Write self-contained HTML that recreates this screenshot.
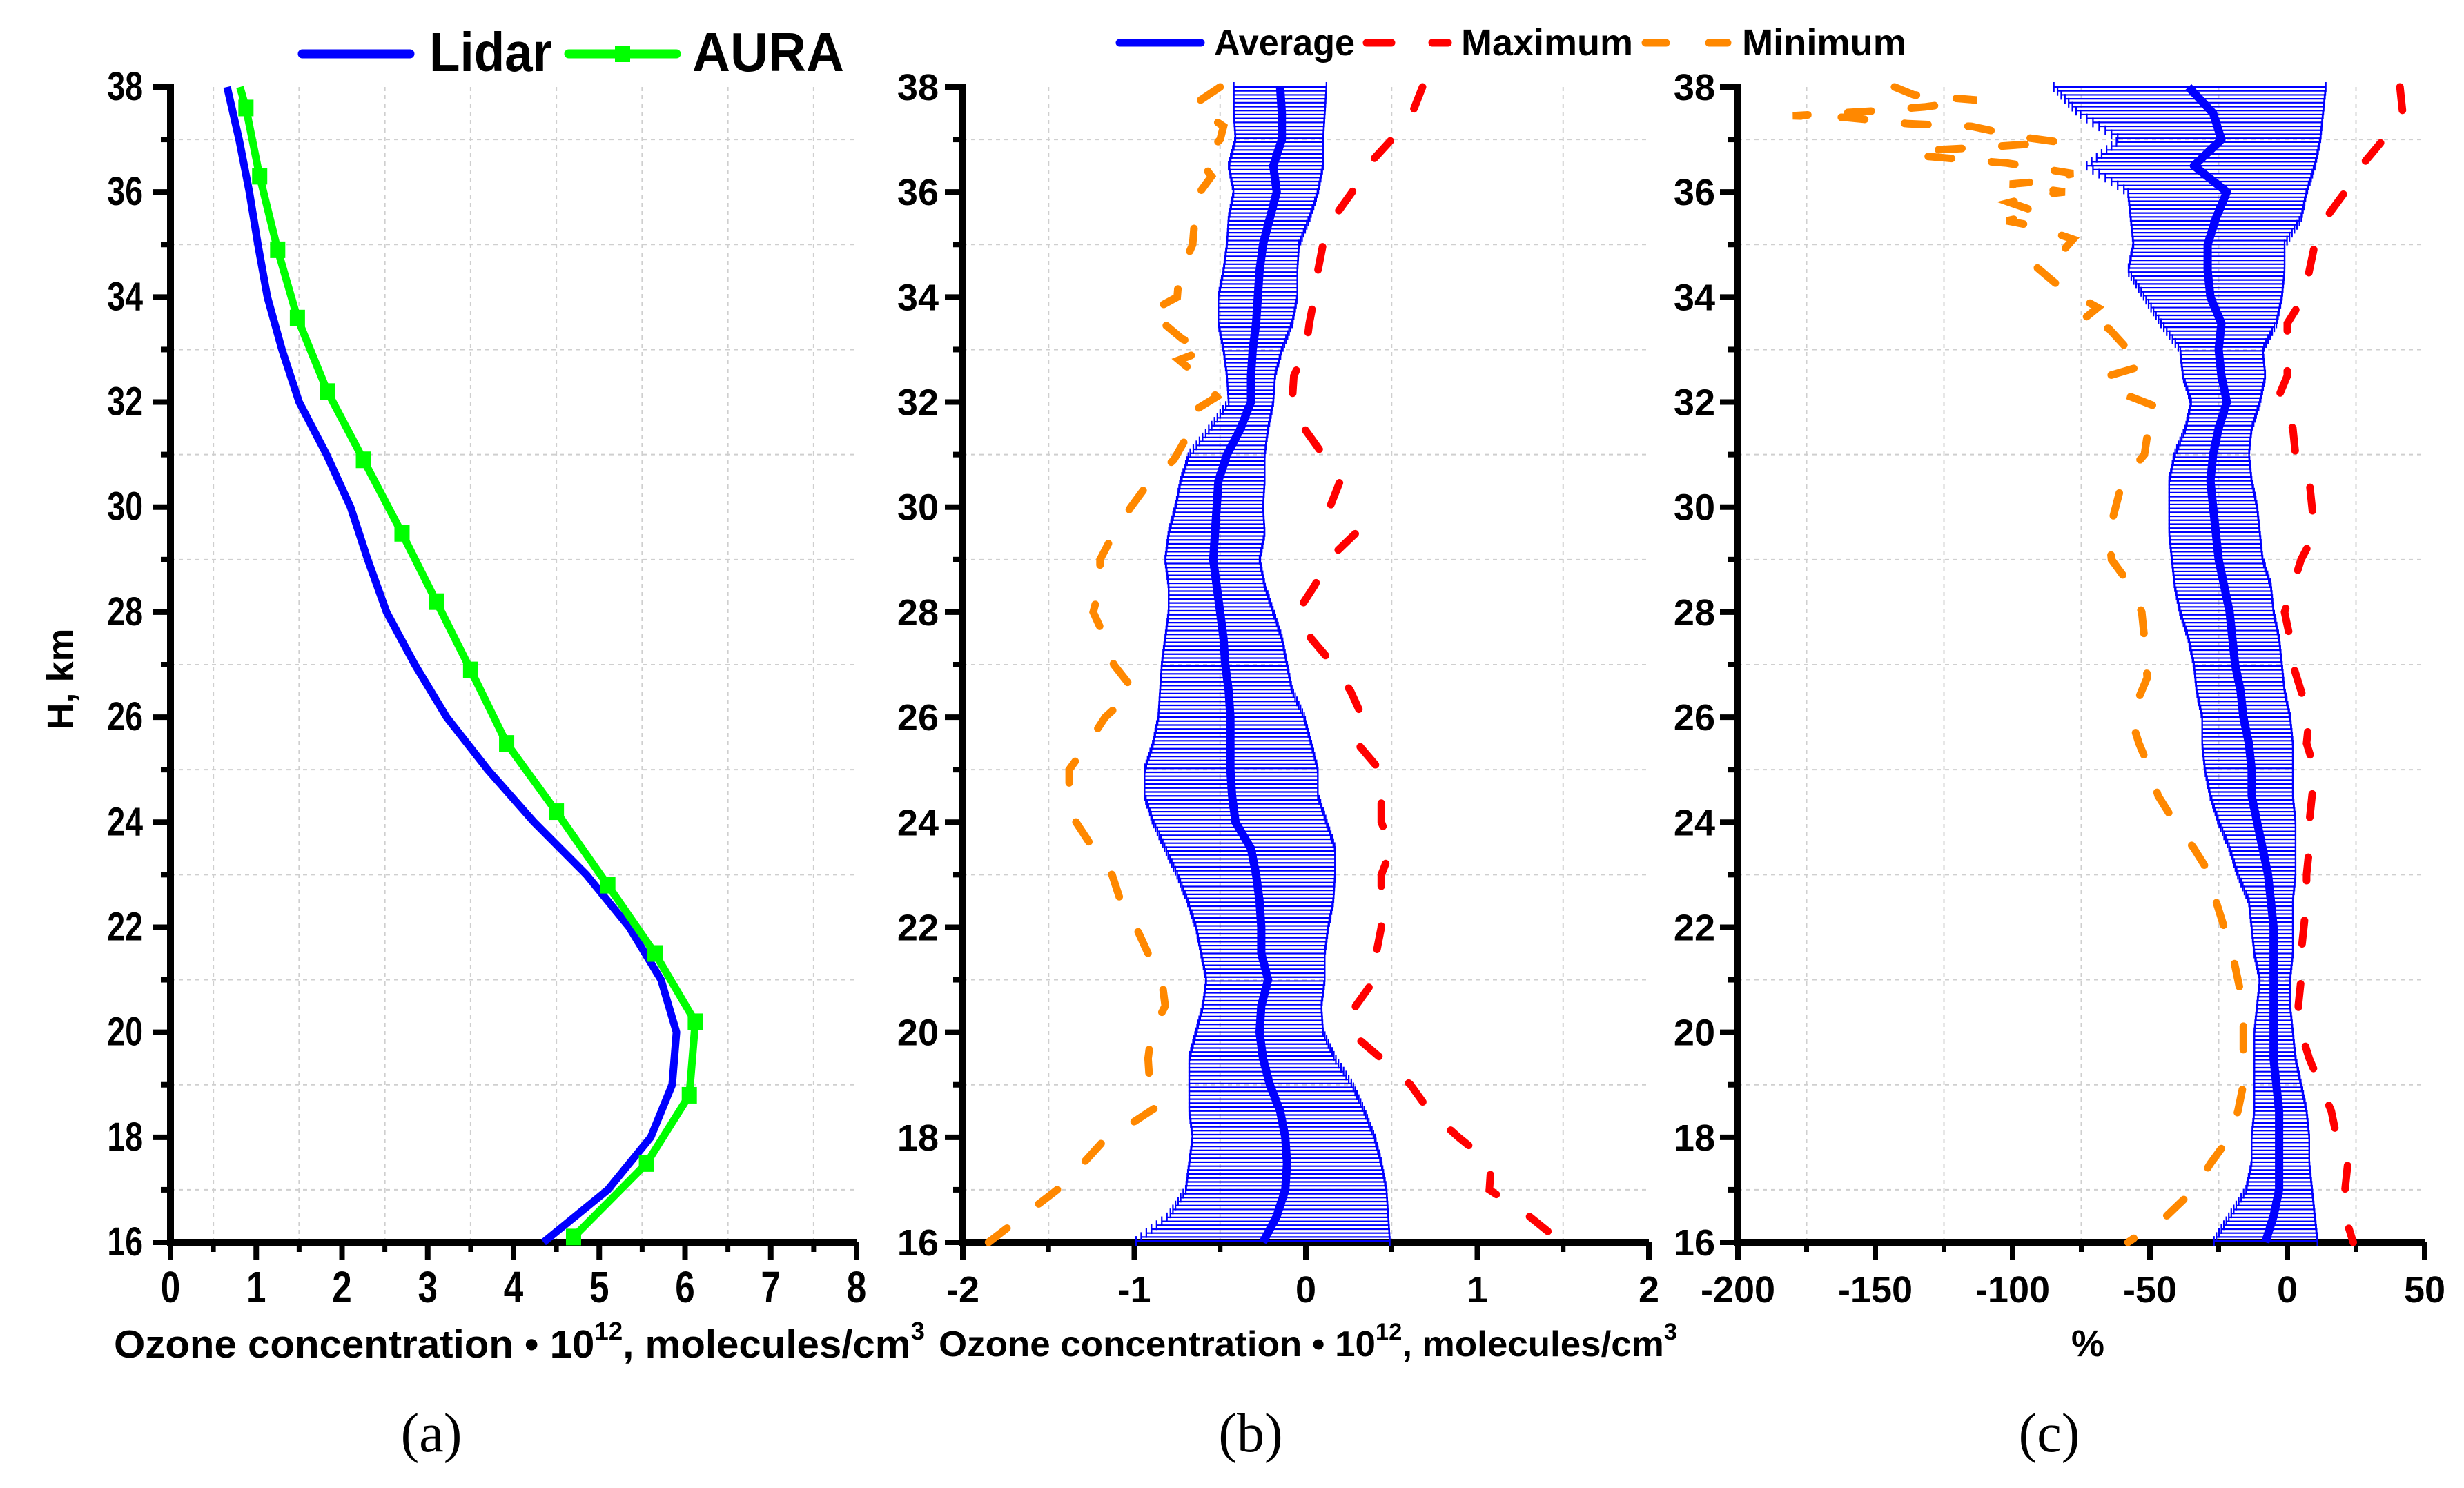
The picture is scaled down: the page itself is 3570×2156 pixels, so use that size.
<!DOCTYPE html>
<html><head><meta charset="utf-8"><style>
html,body{margin:0;padding:0;background:#fff;}
svg{display:block;}
text{font-family:"Liberation Sans",sans-serif;font-weight:bold;fill:#000;}
</style></head>
<body>
<svg id="chart" xmlns="http://www.w3.org/2000/svg" width="3570" height="2156" viewBox="0 0 3570 2156"></svg>
<script>
// ---------- Panel (a) data ----------
const lidarH = [38,37,36,35,34,33,32,31,30,29,28,27,26,25,24,23,22,21,20,19,18,17,16];
const lidarX = [0.66,0.80,0.92,1.02,1.13,1.30,1.50,1.82,2.10,2.30,2.52,2.85,3.22,3.70,4.24,4.85,5.35,5.72,5.90,5.85,5.60,5.10,4.35];
const auraH = [38,37.6,36.3,34.9,33.6,32.2,30.9,29.5,28.2,26.9,25.5,24.2,22.8,21.5,20.2,18.8,17.5,16.1,16];
const auraX = [0.81,0.88,1.04,1.25,1.48,1.83,2.25,2.70,3.10,3.50,3.92,4.50,5.10,5.65,6.12,6.05,5.55,4.70,4.65];
const auraMarkerH = [37.6,36.3,34.9,33.6,32.2,30.9,29.5,28.2,26.9,25.5,24.2,22.8,21.5,20.2,18.8,17.5,16.1];
const auraMarkerX = [0.88,1.04,1.25,1.48,1.83,2.25,2.70,3.10,3.50,3.92,4.50,5.10,5.65,6.12,6.05,5.55,4.70];
const ticksA = [0,1,2,3,4,5,6,7,8];
const ticksH = [16,18,20,22,24,26,28,30,32,34,36,38];

// ---------- Panel (b) data (heights 38..16 step 0.5) ----------
const statH = [38,37.5,37,36.5,36,35.5,35,34.5,34,33.5,33,32.5,32,31.5,31,30.5,30,29.5,29,28.5,28,27.5,27,26.5,26,25.5,25,24.5,24,23.5,23,22.5,22,21.5,21,20.5,20,19.5,19,18.5,18,17.5,17,16.5,16];
const bAvg = [-0.15,-0.14,-0.14,-0.19,-0.17,-0.21,-0.25,-0.27,-0.28,-0.29,-0.31,-0.32,-0.32,-0.38,-0.46,-0.51,-0.52,-0.53,-0.54,-0.52,-0.50,-0.48,-0.47,-0.45,-0.44,-0.44,-0.44,-0.43,-0.41,-0.32,-0.29,-0.27,-0.26,-0.26,-0.22,-0.26,-0.27,-0.25,-0.21,-0.15,-0.12,-0.11,-0.12,-0.17,-0.25];
const bLow = [-0.42,-0.42,-0.41,-0.45,-0.42,-0.45,-0.46,-0.48,-0.51,-0.51,-0.48,-0.46,-0.45,-0.56,-0.68,-0.73,-0.76,-0.80,-0.82,-0.80,-0.80,-0.82,-0.84,-0.85,-0.86,-0.89,-0.94,-0.94,-0.89,-0.82,-0.75,-0.69,-0.64,-0.61,-0.58,-0.60,-0.64,-0.68,-0.68,-0.68,-0.66,-0.68,-0.70,-0.80,-1.00];
const bHigh = [0.12,0.11,0.10,0.10,0.07,0.02,-0.04,-0.05,-0.05,-0.08,-0.14,-0.18,-0.19,-0.22,-0.24,-0.24,-0.25,-0.24,-0.27,-0.24,-0.19,-0.14,-0.11,-0.08,-0.01,0.03,0.07,0.07,0.12,0.17,0.17,0.16,0.13,0.11,0.11,0.09,0.10,0.17,0.27,0.34,0.40,0.44,0.47,0.48,0.49];
const bMax = [0.68,0.62,0.50,0.36,0.27,0.16,0.10,0.07,0.05,0.02,0.00,-0.07,-0.08,-0.01,0.10,0.20,0.14,0.29,0.13,0.05,-0.05,0.03,0.16,0.26,0.33,0.30,0.43,0.44,0.44,0.50,0.44,0.44,0.44,0.41,0.40,0.29,0.26,0.44,0.61,0.72,0.89,1.08,1.07,1.30,1.49];
const bMinH = [38,37.65,37.25,37.0,36.6,36.3,35.9,35.4,35,34.4,34.0,33.7,33.5,33.2,33.0,32.8,32.5,32.1,31.8,31.3,30.9,30.4,30.0,29.5,29.0,28.5,28.0,27.5,27.0,26.5,26.0,25.5,25,24.5,24,23.5,23,22.5,22,21.5,21,20.5,20,19.5,19,18.6,18.3,18,17.5,17,16.5,16];
const bMin = [-0.50,-0.66,-0.48,-0.50,-0.62,-0.55,-0.64,-0.65,-0.66,-0.74,-0.75,-0.92,-0.83,-0.72,-0.58,-0.74,-0.63,-0.52,-0.67,-0.70,-0.77,-0.93,-1.02,-1.12,-1.20,-1.20,-1.24,-1.17,-1.12,-1.00,-1.17,-1.27,-1.38,-1.38,-1.34,-1.24,-1.13,-1.08,-0.99,-0.92,-0.84,-0.82,-0.90,-0.92,-0.91,-0.86,-1.00,-1.16,-1.30,-1.45,-1.65,-1.85];
const ticksB = [-2,-1,0,1,2];

// ---------- Panel (c) data ----------
const cAvg = [-36,-27,-24,-34,-22,-26,-29,-29,-28,-24,-25,-24,-22,-25,-27,-28,-27,-26,-25,-23,-21,-20,-19,-17,-16,-14,-13,-13,-11,-9,-7,-6,-5,-5,-5,-5,-5,-5,-4,-3,-3,-3,-3,-5,-8];
const cLow = [-85,-76,-61,-73,-58,-57,-56,-58,-52,-46,-39,-38,-35,-37,-41,-43,-43,-43,-42,-41,-39,-36,-34,-33,-31,-31,-30,-28,-25,-21,-18,-14,-13,-12,-10,-11,-12,-12,-12,-12,-13,-13,-15,-21,-27];
const cHigh = [14,13,12,10,7,5,-1,-1,-2,-4,-9,-8,-10,-13,-14,-13,-11,-10,-9,-6,-5,-3,-2,-1,1,2,2,2,3,3,3,2,2,2,1,1,2,3,5,7,8,8,9,10,11];
const cMax = [41,42,35,27,21,14,10,8,6,0,0,0,-4,2,3,8,9,10,5,2,-1,1,2,5,8,7,10,9,8,8,7,7,6,5,5,4,5,8,12,16,18,22,21,21,24];
const cMinH = [38,37.85,37.75,37.62,37.55,37.45,37.42,37.3,37.25,37.05,36.95,36.85,36.8,36.7,36.65,36.55,36.35,36.2,36.15,36.0,35.95,35.8,35.6,35.45,35.35,35.1,34.8,34.6,34.2,33.8,33.5,33.4,33.0,32.7,32.5,32.3,32.1,31.9,31.7,31.0,30.5,29.5,29.0,28.5,28.0,27.5,26.75,26.0,25.5,25,24.5,24,23.5,23,22.5,22,21.5,21,20.5,20,19.5,19,18.5,18,17.5,17,16.5,16];
const cMin = [-143,-136,-113,-132,-148,-180,-161,-138,-115,-97,-83,-111,-129,-136,-125,-102,-78,-90,-101,-81,-90,-101,-90,-102,-92,-78,-83,-92,-83,-69,-76,-65,-58,-52,-65,-56,-57,-47,-50,-52,-60,-65,-64,-57,-53,-52,-51,-57,-54,-50,-47,-41,-34,-28,-26,-23,-20,-18,-16,-16,-16,-16,-18,-21,-28,-34,-44,-58];
const ticksC = [-200,-150,-100,-50,0,50];

// ---------- geometry ----------
const Y0 = 126, Y1 = 1800;
function yH(h){ return Y0 + (38 - h) * (Y1 - Y0) / 22; }
const xA = v => 247 + v * 124.25;
const xB = v => 1892 + v * 248.5;
const xC = v => 2518 + (v + 200) * 3.98;

const svg = document.getElementById('chart');
const NS = 'http://www.w3.org/2000/svg';
function el(tag, attrs, parent){
  const e = document.createElementNS(NS, tag);
  for (const k in attrs) e.setAttribute(k, attrs[k]);
  (parent || svg).appendChild(e);
  return e;
}
function group(name){
  const g = el('g', {});
  
  
  return g;
}
function label(g, x, y, str, size, anchor, sx, name){
  const t = el('text', {transform:`translate(${x},${y}) scale(${sx||1},1)`, 'font-size':size, 'text-anchor':anchor||'middle'}, g);
  t.textContent = str;
  
  
  return t;
}
function poly(g, xs, ys, attrs, name){
  const pts = xs.map((x,i)=> x.toFixed(1)+','+ys[i].toFixed(1)).join(' ');
  const p = el('polyline', Object.assign({points:pts, fill:'none'}, attrs), g);
  
  
  return p;
}
function interp(hs, vs, h){
  for (let i=0;i<hs.length-1;i++){
    const a=hs[i], b=hs[i+1];
    if ((h<=a && h>=b)){ const t=(a-h)/(a-b||1); return vs[i]+(vs[i+1]-vs[i])*t; }
  }
  return vs[vs.length-1];
}

// ---------- generic axes ----------
function axes(name, x0, x1, xMajor, xMinor, xs, tickLbls, sx, ylblRight, ysx, ysize, xsize){
  const g = group(name);
  // grid
  xMinor.forEach(v=>{
    const l = el('line',{x1:xs(v),x2:xs(v),y1:Y0,y2:Y1,stroke:'#cfcfcf','stroke-width':2,'stroke-dasharray':'6 6'},g);
    
    
  });
  for (let h=17; h<=37; h+=2){
    const l = el('line',{x1:x0,x2:x1,y1:yH(h),y2:yH(h),stroke:'#cfcfcf','stroke-width':2,'stroke-dasharray':'6 6'},g);
    
    
  }
  // axis lines
  const ya = el('line',{x1:x0,x2:x0,y1:Y0-4,y2:Y1+5,stroke:'#000','stroke-width':10},g);
  
  
  const xa = el('line',{x1:x0-5,x2:x1,y1:Y1,y2:Y1,stroke:'#000','stroke-width':10},g);
  
  
  // x ticks
  xMajor.forEach((v,i)=>{
    const t = el('line',{x1:xs(v),x2:xs(v),y1:Y1,y2:Y1+26,stroke:'#000','stroke-width':8},g);
    
    
    label(g, xs(v), 1887, tickLbls[i], xsize, 'middle', sx, 'x-tick-label');
  });
  xMinor.forEach(v=>{
    const t = el('line',{x1:xs(v),x2:xs(v),y1:Y1,y2:Y1+14,stroke:'#000','stroke-width':7},g);
    
    
  });
  // y ticks
  for (let h=16; h<=38; h++){
    const major = h%2===0;
    const t = el('line',{x1:x0,x2:x0-(major?26:14),y1:yH(h),y2:yH(h),stroke:'#000','stroke-width':8},g);
    
    
  }
  ticksH.forEach(h=>{ label(g, ylblRight, yH(h)+19, String(h), ysize, 'end', ysx, 'y-tick-label'); });
  return g;
}

// ---------- Panel (a) ----------
const gA = axes('panel-a-axes', 247, 1241, ticksA, [0.5,1.5,2.5,3.5,4.5,5.5,6.5,7.5], xA, ticksA.map(String), 0.8, 207, 0.8, 58, 64);
const gAS = group('panel-a-series');
poly(gAS, lidarX.map(xA), lidarH.map(yH), {stroke:'#0000ff','stroke-width':11,'stroke-linejoin':'round'}, 'lidar-line');
poly(gAS, auraX.map(xA), auraH.map(yH), {stroke:'#00ff00','stroke-width':11,'stroke-linejoin':'round'}, 'aura-line');
auraMarkerX.forEach((v,i)=>{
  const r = el('rect',{x:xA(v)-11,y:yH(auraMarkerH[i])-12,width:22,height:24,fill:'#00ff00'},gAS);
  
  
});

// ---------- error bar panel helper ----------
function errPanel(name, xs, avg, lo, hi){
  const g = group(name);
  for (let h=38; h>=15.99; h-=0.075){
    const a = xs(interp(statH, lo, h)), b = xs(interp(statH, hi, h)), y = yH(h);
    const l = el('line',{x1:a,x2:b,y1:y,y2:y,stroke:'#0000ff','stroke-width':2.2},g);
    
    
    const c1 = el('line',{x1:a,x2:a,y1:y-7,y2:y+7,stroke:'#0000ff','stroke-width':2.2},g);
    
    
    const c2 = el('line',{x1:b,x2:b,y1:y-7,y2:y+7,stroke:'#0000ff','stroke-width':2.2},g);
    
    
  }
  poly(g, avg.map(xs), statH.map(yH), {stroke:'#0000ff','stroke-width':12,'stroke-linejoin':'round'}, 'average-line');
  return g;
}
const dashStyle = c => ({stroke:c,'stroke-width':11,'stroke-dasharray':'34 58','stroke-linecap':'round'});

// ---------- Panel (b) ----------
axes('panel-b-axes', 1395, 2389, ticksB, [-1.5,-0.5,0.5,1.5], xB, ticksB.map(String), 1, 1360, 1, 54, 54);
const gBS = errPanel('panel-b-series', xB, bAvg, bLow, bHigh);
poly(gBS, bMax.map(xB), statH.map(yH), dashStyle('#ff0000'), 'maximum-line');
poly(gBS, bMin.map(xB), bMinH.map(yH), dashStyle('#ff8800'), 'minimum-line');

// ---------- Panel (c) ----------
axes('panel-c-axes', 2518, 3513, ticksC, [-175,-125,-75,-25,25], xC, ticksC.map(String), 1, 2485, 1, 54, 54);
const gCS = errPanel('panel-c-series', xC, cAvg, cLow, cHigh);
poly(gCS, cMax.map(xC), statH.map(yH), dashStyle('#ff0000'), 'maximum-line');
poly(gCS, cMin.map(xC), cMinH.map(yH), dashStyle('#ff8800'), 'minimum-line');
</script>

<svg xmlns="http://www.w3.org/2000/svg" width="3570" height="2156" viewBox="0 0 3570 2156" style="position:absolute;left:0;top:0;">
  <g>
    <line x1="438" y1="78" x2="594" y2="78" stroke="#0000ff" stroke-width="13" stroke-linecap="round"/>
    <text x="622" y="103" font-size="80" textLength="178" lengthAdjust="spacingAndGlyphs">Lidar</text>
    <line x1="824" y1="78" x2="980" y2="78" stroke="#00ff00" stroke-width="13" stroke-linecap="round"/>
    <rect x="891" y="66" width="22" height="24" fill="#00ff00"/>
    <text x="1003" y="103" font-size="80" textLength="220" lengthAdjust="spacingAndGlyphs">AURA</text>
  </g>
  <g>
    <line x1="1622" y1="62" x2="1740" y2="62" stroke="#0000ff" stroke-width="11" stroke-linecap="round"/>
    <text x="1759" y="80" font-size="54" textLength="204" lengthAdjust="spacingAndGlyphs">Average</text>
    <line x1="1980" y1="62" x2="2016" y2="62" stroke="#ff0000" stroke-width="11" stroke-linecap="round"/>
    <line x1="2075" y1="62" x2="2098" y2="62" stroke="#ff0000" stroke-width="11" stroke-linecap="round"/>
    <text x="2117" y="80" font-size="54" textLength="249" lengthAdjust="spacingAndGlyphs">Maximum</text>
    <line x1="2384" y1="62" x2="2414" y2="62" stroke="#ff8800" stroke-width="11" stroke-linecap="round"/>
    <line x1="2476" y1="62" x2="2503" y2="62" stroke="#ff8800" stroke-width="11" stroke-linecap="round"/>
    <text x="2524" y="80" font-size="54" textLength="238" lengthAdjust="spacingAndGlyphs">Minimum</text>
  </g>
  <text transform="translate(106,984) rotate(-90)" font-size="54" text-anchor="middle">H, km</text>
  <text x="165" y="1967" font-size="57" textLength="1175" lengthAdjust="spacingAndGlyphs">Ozone concentration • 10<tspan font-size="36" dy="-26">12</tspan><tspan dy="26">, molecules/cm</tspan><tspan font-size="36" dy="-26">3</tspan></text>
  <text x="1360" y="1965" font-size="52" textLength="1070" lengthAdjust="spacingAndGlyphs">Ozone concentration • 10<tspan font-size="34" dy="-24">12</tspan><tspan dy="24">, molecules/cm</tspan><tspan font-size="34" dy="-24">3</tspan></text>
  <text x="3025" y="1965" font-size="54" text-anchor="middle">%</text>
  <text x="625" y="2103" font-size="80" text-anchor="middle" style="font-family:'Liberation Serif',serif;font-weight:normal">(a)</text>
  <text x="1812" y="2103" font-size="80" text-anchor="middle" style="font-family:'Liberation Serif',serif;font-weight:normal">(b)</text>
  <text x="2969" y="2103" font-size="80" text-anchor="middle" style="font-family:'Liberation Serif',serif;font-weight:normal">(c)</text>
</svg>
</body></html>
